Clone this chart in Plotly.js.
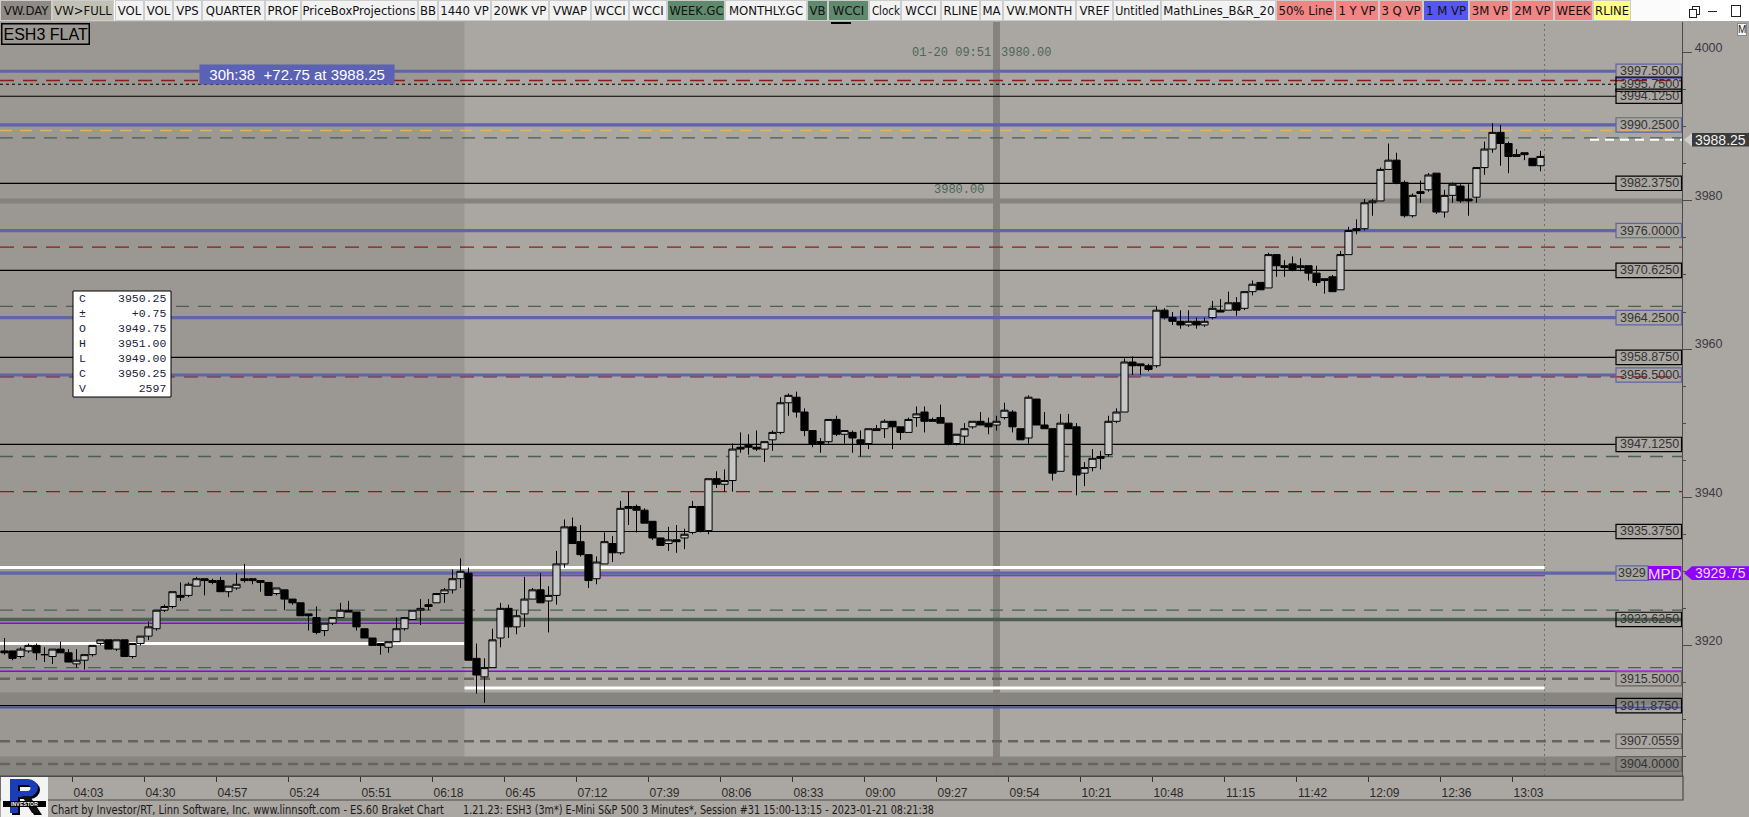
<!DOCTYPE html>
<html><head><meta charset="utf-8">
<script src="https://cdn.plot.ly/plotly-3.0.1.min.js"></script>
<style>
body{margin:0;background:#aaa6a1;overflow:hidden;width:1749px;height:817px;position:relative;font-family:"Liberation Sans",Arial,sans-serif}
#chart{position:absolute;left:0;top:0;width:1749px;height:817px}
#toolbar{position:absolute;left:0;top:0;width:1749px;height:21px;background:#fbfbfb;z-index:5}
.btn{position:absolute;top:0;height:21px;border:1px solid #cdcdcd;box-sizing:border-box;font:13px "Liberation Sans Narrow","DejaVu Sans Condensed","Liberation Sans",sans-serif;line-height:19px;text-align:center;color:#111;white-space:nowrap;overflow:visible;background:#f2f2f2}
.btn span{display:inline-block;transform-origin:center}
.ftxt{position:absolute;top:803px;font:12px "Liberation Sans Narrow","DejaVu Sans Condensed","Liberation Sans",sans-serif;color:#1a1a1a;white-space:pre;transform-origin:left center;z-index:5}
#logo{position:absolute;left:1px;top:777px;width:47px;height:40px;background:#f4f4f4;z-index:5}
</style></head>
<body>
<div id="chart"></div>
<div id="toolbar"></div>
<div id="logo">
 <svg width="47" height="40" style="position:absolute;left:0;top:0">
  <g transform="translate(2,2)" fill="#000">
   <rect x="9" y="2" width="8" height="34"/>
   <path d="M17 2 H27 A10 9 0 0 1 27 20 H17 V14 H26 A3.5 3 0 0 0 26 8 H17 Z"/>
   <polygon points="21,19 28,19 39,36 31,36"/>
  </g>
  <g fill="#1b3db8">
   <rect x="9" y="2" width="8" height="34"/>
   <path d="M17 2 H27 A10 9 0 0 1 27 20 H17 V14 H26 A3.5 3 0 0 0 26 8 H17 Z"/>
  </g>
  <polygon points="21,19 28,19 39,36 31,36" fill="#111"/>
  <rect x="2" y="24" width="43" height="6" fill="#000"/>
 </svg>
 <div style="position:absolute;left:2px;top:24px;width:43px;height:6px;color:#fff;font:bold 5px 'Liberation Sans',sans-serif;line-height:6px;text-align:center;letter-spacing:0.2px">INVESTOR</div>
</div>
<span class="ftxt" id="f1" data-x="51" data-w="393">Chart by Investor/RT, Linn Software, Inc. www.linnsoft.com - ES.60 Braket Chart</span>
<span class="ftxt" id="f2" data-x="463" data-w="471">1.21.23: ESH3 (3m*) E-Mini S&amp;P 500 3 Minutes*, Session #31 15:00-13:15 - 2023-01-21 08:21:38</span>
<script>
// ---------------- DATA ----------------
const firstBarStart = "03:36";           // start time of the first 3-minute bar
const rthStart = "06:30";
const sessionEnd = "13:15";
const crosshairTime = "09:51";          // bar end time shown by crosshair
const crosshairPrice = 3980.00;
const tickLabels = ["04:03","04:30","04:57","05:24","05:51","06:18","06:45","07:12","07:39","08:06","08:33",
                    "09:00","09:27","09:54","10:21","10:48","11:15","11:42","12:09","12:36","13:03"];
const priceTicks = [3920, 3940, 3960, 3980, 4000];

const openP = [
3919.25,3919.25,3918.5,3919.25,3920.0,3918.75,3918.5,3919.5,3919.0,3917.5,
3918.0,3918.75,3920.25,3920.75,3919.5,3920.75,3918.5,3920.25,3921.25,3922.25,
3924.75,3925.25,3926.75,3926.75,3928.0,3929.0,3928.75,3928.75,3927.25,3927.75,
3928.75,3929.0,3928.75,3928.5,3927.0,3927.5,3926.25,3925.75,3924.25,3923.75,
3922.0,3923.0,3923.75,3924.75,3924.5,3922.25,3921.0,3920.25,3919.75,3920.5,
3922.25,3923.5,3924.75,3925.5,3925.75,3927.0,3927.5,3929.0,3929.75,3918.25,
3915.75,3917.0,3921.0,3925.0,3922.5,3924.25,3926.25,3927.5,3926.0,3926.75,
3931.0,3936.0,3934.0,3932.25,3929.0,3931.0,3933.75,3932.5,3938.75,3938.75,
3938.25,3936.75,3934.5,3933.75,3934.25,3934.5,3935.25,3938.75,3935.5,3942.5,
3941.75,3942.25,3946.75,3947.0,3946.75,3946.5,3947.75,3948.75,3952.75,3953.5,
3951.5,3949.0,3947.5,3947.5,3950.5,3948.5,3948.75,3947.75,3947.25,3949.0,
3949.25,3950.25,3949.5,3948.75,3950.75,3951.5,3950.5,3950.75,3950.0,3947.25,
3948.25,3949.5,3950.25,3950.0,3949.75,3950.75,3951.5,3949.25,3948.0,3953.25,
3949.75,3949.25,3943.5,3950.0,3949.5,3943.25,3944.0,3945.5,3945.75,3950.25,
3951.5,3958.25,3958.0,3957.75,3957.75,3965.25,3964.25,3963.75,3963.25,3963.75,
3963.25,3964.25,3965.25,3965.25,3966.25,3965.5,3967.75,3969.0,3968.25,3972.75,
3971.25,3971.5,3971.0,3971.25,3970.25,3969.25,3969.75,3968.0,3972.75,3976.25,
3976.25,3979.75,3980.0,3984.25,3985.5,3982.5,3978.0,3981.25,3981.5,3983.75,
3978.5,3980.75,3982.0,3980.25,3980.5,3984.5,3987.0,3989.25,3987.75,3986.0,
3986.5,3985.75,3984.75];
const highP = [
3921.0,3919.25,3919.75,3920.25,3920.25,3919.75,3919.5,3920.5,3919.5,3919.5,
3918.75,3920.0,3920.75,3920.75,3920.75,3920.75,3920.25,3921.25,3923.25,3924.75,
3925.5,3927.25,3928.5,3928.5,3929.25,3929.0,3929.0,3929.25,3928.0,3929.75,
3931.0,3929.0,3928.75,3928.5,3927.75,3927.5,3926.25,3925.75,3924.25,3925.25,
3923.0,3923.75,3925.75,3926.0,3924.5,3922.25,3921.0,3920.25,3920.5,3923.75,
3923.75,3924.75,3926.25,3926.25,3927.0,3927.75,3930.25,3931.75,3930.5,3920.25,
3918.25,3922.25,3925.75,3925.5,3924.75,3929.25,3927.75,3929.75,3928.0,3932.75,
3937.0,3937.25,3936.25,3932.25,3932.0,3935.25,3934.75,3939.5,3940.75,3939.0,
3938.5,3936.75,3934.5,3936.0,3936.25,3935.75,3939.5,3938.75,3942.5,3943.5,
3943.75,3947.25,3948.75,3948.5,3949.0,3947.5,3949.0,3953.5,3954.0,3954.25,
3952.0,3949.0,3948.0,3950.5,3951.0,3949.0,3949.0,3949.0,3949.25,3949.75,
3950.5,3950.25,3949.5,3950.75,3952.25,3952.25,3950.75,3952.5,3950.0,3948.5,
3950.0,3950.25,3951.5,3950.75,3951.0,3952.75,3951.75,3949.25,3953.75,3953.25,
3951.5,3949.25,3951.25,3951.25,3950.0,3944.75,3946.5,3946.25,3951.0,3952.0,
3958.75,3959.0,3958.0,3958.0,3965.75,3965.5,3965.0,3965.25,3965.25,3964.25,
3964.25,3966.5,3966.75,3967.75,3967.0,3967.75,3969.25,3969.0,3973.0,3972.75,
3972.0,3972.5,3972.25,3971.25,3971.25,3969.5,3970.0,3973.25,3976.5,3977.5,
3980.25,3980.25,3984.5,3987.75,3986.5,3982.75,3981.0,3982.75,3983.75,3983.75,
3981.5,3982.5,3982.25,3982.25,3984.5,3988.0,3990.5,3990.25,3988.0,3987.0,
3986.5,3985.75,3986.75];
const lowP = [
3918.75,3918.0,3918.25,3919.0,3918.0,3917.75,3917.5,3919.0,3917.75,3917.0,
3916.75,3918.5,3920.0,3919.5,3919.25,3918.5,3918.25,3920.0,3920.75,3922.0,
3924.5,3925.0,3926.0,3926.5,3928.0,3926.75,3928.25,3927.25,3926.5,3927.5,
3928.5,3928.25,3927.25,3926.75,3926.75,3924.75,3925.5,3924.0,3922.0,3921.5,
3921.25,3922.75,3923.75,3924.5,3922.0,3921.0,3920.0,3918.75,3919.0,3920.5,
3922.0,3923.5,3922.75,3924.75,3925.75,3925.75,3927.0,3927.75,3918.0,3913.5,
3912.25,3917.0,3919.75,3921.0,3921.5,3922.5,3926.25,3925.75,3921.75,3925.5,
3930.5,3933.75,3932.0,3927.75,3928.25,3931.0,3931.25,3932.25,3936.25,3935.25,
3936.5,3934.25,3933.5,3932.75,3932.5,3933.0,3935.0,3935.25,3935.0,3941.25,
3940.75,3940.75,3946.0,3945.75,3946.25,3944.75,3946.25,3948.5,3951.0,3950.75,
3948.25,3946.75,3946.0,3947.25,3948.25,3947.25,3946.0,3945.5,3946.5,3949.0,
3948.0,3946.5,3947.75,3948.75,3949.5,3948.75,3950.25,3950.0,3947.0,3947.0,
3947.25,3949.25,3949.75,3948.5,3949.0,3950.5,3948.75,3947.75,3947.25,3949.75,
3949.25,3942.25,3943.5,3949.25,3940.25,3941.5,3943.5,3943.75,3945.5,3950.0,
3951.5,3956.5,3956.5,3957.0,3957.5,3964.0,3963.25,3962.75,3963.0,3962.75,
3963.0,3964.0,3965.0,3965.25,3964.5,3965.25,3967.25,3968.0,3968.25,3969.75,
3969.75,3970.5,3970.5,3969.25,3968.5,3967.5,3967.75,3968.0,3972.75,3975.5,
3976.0,3978.0,3980.0,3984.25,3982.25,3977.75,3977.75,3979.75,3981.25,3978.25,
3977.75,3979.75,3979.75,3978.0,3979.75,3983.5,3986.5,3984.75,3983.75,3986.0,
3985.5,3984.75,3984.0];
const closeP = [
3919.0,3918.25,3919.5,3920.0,3919.0,3918.75,3919.5,3919.0,3917.75,3918.0,
3918.75,3920.0,3920.75,3919.5,3920.75,3918.5,3920.25,3921.25,3922.5,3924.75,
3925.25,3927.25,3926.5,3928.25,3929.0,3928.75,3928.5,3927.25,3928.0,3928.25,
3929.0,3928.75,3928.5,3926.75,3927.75,3926.25,3925.75,3924.0,3924.0,3921.75,
3923.0,3923.75,3924.75,3924.5,3922.5,3921.0,3920.0,3920.0,3920.5,3922.25,
3923.75,3924.75,3925.0,3925.25,3927.0,3927.5,3929.0,3930.0,3918.0,3916.0,
3917.0,3920.75,3925.0,3922.5,3924.0,3926.25,3927.5,3925.75,3926.75,3931.0,
3936.0,3933.75,3932.25,3928.75,3931.25,3934.0,3932.5,3938.5,3938.5,3938.25,
3936.5,3934.5,3933.5,3934.25,3934.0,3935.0,3938.75,3935.5,3942.5,3941.75,
3942.25,3946.5,3946.5,3946.75,3946.5,3947.5,3948.75,3952.75,3953.75,3951.5,
3949.0,3947.25,3947.25,3950.5,3948.5,3949.0,3948.0,3947.25,3949.25,3949.25,
3950.25,3949.5,3948.75,3950.5,3951.25,3950.25,3950.25,3950.0,3947.25,3948.5,
3949.25,3950.25,3949.75,3949.5,3950.25,3951.75,3949.5,3947.75,3953.5,3949.75,
3949.25,3943.25,3950.0,3949.25,3943.0,3944.0,3945.25,3945.25,3950.25,3951.5,
3958.25,3957.75,3957.75,3957.25,3965.25,3964.25,3963.75,3963.25,3963.75,3963.25,
3963.75,3965.5,3965.0,3966.25,3965.25,3967.75,3968.75,3968.0,3972.75,3971.25,
3971.0,3970.75,3971.25,3970.25,3969.0,3969.5,3967.75,3972.75,3976.0,3976.0,
3979.75,3980.0,3984.25,3985.5,3982.5,3978.0,3980.75,3981.0,3983.5,3978.5,
3980.75,3982.25,3980.0,3980.0,3984.5,3987.0,3989.25,3987.75,3986.0,3986.25,
3986.25,3984.75,3986.0];

// horizontal reference levels
const blueLevels      = [3997.5, 3990.25, 3976.0, 3964.25, 3956.5, 3929.75];
const blackLevels     = [3994.125, 3982.375, 3970.625, 3958.875, 3947.125, 3935.375, 3911.875];
const dottedLevels    = [3995.75];
const redDashLevels   = [3996.25, 3973.75, 3956.25, 3940.75];
const greenDashLevels = [3988.5, 3965.75, 3945.5, 3924.75, 3917.0];
const grayDashLevels  = [3915.5, 3907.0559, 3904.0];
const orangeDashLevels= [3989.5];
const greenThickLevels= [3923.5];
const whiteFullLevels = [3930.5];
const whitePreLevels  = [3920.25];
const whiteRthLevels  = [3914.25];
const purplePreLevels = [3923.0];
const purpleRthLevels = [3929.4];
const purpleFullLevels= [3916.5];
const navyLevels      = [3911.6];
const zoneBands       = [[3911.875, 3913.625], [3902.37, 3905.0]];
const lastPrice = 3988.25;
const mpdPrice = 3929.75;

const rightLabels = [
  ["3997.5000", 3997.5, "blue"], ["3995.7500", 3995.75, "black"], ["3994.1250", 3994.125, "black"],
  ["3990.2500", 3990.25, "blue"], ["3982.3750", 3982.375, "black"], ["3976.0000", 3976.0, "blue"],
  ["3970.6250", 3970.625, "black"], ["3964.2500", 3964.25, "blue"], ["3958.8750", 3958.875, "black"],
  ["3956.5000", 3956.5, "blue"], ["3947.1250", 3947.125, "black"], ["3935.3750", 3935.375, "black"],
  ["3923.6250", 3923.5, "black"], ["3915.5000", 3915.5, "gray"], ["3911.8750", 3911.875, "black"],
  ["3907.0559", 3907.0559, "gray"], ["3904.0000", 3904.0, "gray"]];

const infoLabels = ["C","±","O","H","L","C","V"];
const infoValues = ["3950.25","+0.75","3949.75","3951.00","3949.00","3950.25","2597"];
const symbolText = "ESH3 FLAT";
const statText = "30h:38  +72.75 at 3988.25";
const crossDate = "01-20";

const toolbarButtons = [
 ["VW.DAY",0,52,"#8f8a85"],["VW>FULL",52,114,"#c3c1b5"],["VOL",115,144],["VOL",144,173],["VPS",173,202],
 ["QUARTER",202,265],["PROF",265,301],["PriceBoxProjections",301,418],["BB",418,438],["1440 VP",438,491],
 ["20WK VP",491,549],["VWAP",549,591],["WCCI",591,629],["WCCI",629,667],["WEEK.GC",667,725,"#5f8a6e"],
 ["MONTHLY.GC",725,807],["VB",807,828,"#5f8a6e"],["WCCI",828,869,"#5f8a6e"],["Clock",869,901],["WCCI",901,941],
 ["RLINE",941,980],["MA",980,1003],["VW.MONTH",1003,1076],["VREF",1076,1113],["Untitled",1113,1161],
 ["MathLines_B&R_20",1161,1276],["50% Line",1276,1335,"#f28484"],["1 Y VP",1335,1379,"#f28484"],
 ["3 Q VP",1379,1423,"#f28484"],["1 M VP",1423,1469,"#5656f4"],["3M VP",1469,1511,"#f28484"],
 ["2M VP",1511,1554,"#f28484"],["WEEK",1554,1593,"#f28484"],["RLINE",1593,1631,"#ffff82"]];

// ---------------- LAYOUT HELPERS ----------------
const PW = 1682, PT = 22, PB = 776, PH = PB - PT;
const YMIN = 3902.37, YMAX = 4004.15;
const pxX = x => x / PW;
const pxY = y => (PB - y) / PH;
const priceToPx = p => PB - (p - YMIN) / (YMAX - YMIN) * PH;
const toMin = s => { const a = s.split(':').map(Number); return a[0]*60 + a[1]; };
const barOfStart = s => (toMin(s) - toMin(firstBarStart)) / 3;

const barIndex = openP.map((_, i) => i);
const tickVals = tickLabels.map(t => barOfStart(t) - 0.5);
const rthEdge = barOfStart(rthStart) - 0.5;
const endEdge = barOfStart(sessionEnd) - 0.5;
const crossBar = barOfStart(crosshairTime) - 1;
const XMIN = -0.5625, XMAX = 209.6875;

const BOX_L = 1616;
const C = {blue:"#5f65a6", black:"#000000", gray:"#67625d", red:"#8e1b1b", green:"#4c5f52",
           orange:"#eab055", white:"#ffffff", purple:"#8a00ff", navy:"#4a55a5", band:"#878580"};

const shapes = [];
const annos = [];
function hl(p, x0, x1, xref, color, width, dash, layer) {
  shapes.push({type:"line", xref:xref, yref:"y", x0:x0, x1:x1, y0:p, y1:p,
    line:{color:color, width:width, dash:dash || "solid"}, layer: layer || "below"});
}
// premarket shading
shapes.push({type:"rect", xref:"x", yref:"paper", x0:XMIN, x1:rthEdge, y0:0, y1:1,
  fillcolor:"#9b9792", line:{width:0}, layer:"below"});
// zone bands
zoneBands.forEach(b => shapes.push({type:"rect", xref:"paper", yref:"y", x0:0, x1:1, y0:b[0], y1:b[1],
  fillcolor:C.band, line:{width:0}, layer:"below"}));
// crosshair
shapes.push({type:"line", xref:"x", yref:"paper", x0:crossBar, x1:crossBar, y0:0, y1:1,
  line:{color:"#86827d", width:7}, layer:"below"});
hl(crosshairPrice, 0, 1, "paper", "#86827d", 5);
// session end dotted
shapes.push({type:"line", xref:"x", yref:"paper", x0:endEdge, x1:endEdge, y0:0, y1:1,
  line:{color:"#6f6c68", width:1, dash:"2px,3px"}, layer:"below"});

const boxR = pxX(BOX_L);
redDashLevels.forEach(p => hl(p, 0, 1, "paper", C.red, 1.3, "14px,9px"));
greenDashLevels.forEach(p => hl(p, 0, 1, "paper", C.green, 1.3, "13px,9px"));
orangeDashLevels.forEach(p => hl(p, 0, 1, "paper", C.orange, 1.5, "12px,8px"));
grayDashLevels.forEach(p => hl(p, 0, boxR, "paper", C.gray, 2.5, "10px,6px"));
greenThickLevels.forEach(p => hl(p, 0, 1, "paper", C.green, 3.5));
whiteFullLevels.forEach(p => hl(p, XMIN, endEdge, "x", C.white, 3));
whitePreLevels.forEach(p => hl(p, XMIN, rthEdge, "x", C.white, 3));
whiteRthLevels.forEach(p => hl(p, rthEdge, endEdge, "x", C.white, 3));
purplePreLevels.forEach(p => hl(p, XMIN, rthEdge, "x", C.purple, 1.5));
purpleFullLevels.forEach(p => hl(p, 0, 1, "paper", C.purple, 1.5));
blackLevels.forEach(p => hl(p, 0, boxR, "paper", C.black, 1.2));
navyLevels.forEach(p => hl(p, 0, 1, "paper", C.navy, 2));
dottedLevels.forEach(p => hl(p, 0, boxR, "paper", C.black, 1.2, "3px,3px"));
blueLevels.forEach(p => hl(p, 0, boxR, "paper", C.blue, 3.2));
purpleRthLevels.forEach(p => hl(p, rthEdge, endEdge, "x", C.purple, 1));
// last price white dashes near the right
hl(lastPrice, pxX(1590), 1, "paper", "#ffffff", 2, "9px,6px");

// right-side price boxes
const halfBox = 7.2 * (YMAX - YMIN) / PH;
rightLabels.forEach(r => {
  const col = C[r[2]];
  shapes.push({type:"rect", xref:"paper", yref:"y", x0:boxR, x1:pxX(1681.5), y0:r[1]-halfBox, y1:r[1]+halfBox,
    line:{color:col, width:1.2}, fillcolor:"rgba(0,0,0,0)", layer:"above"});
  annos.push({xref:"paper", yref:"y", x:pxX((BOX_L+1682)/2), y:r[1], text:r[0], showarrow:false,
    xanchor:"center", yanchor:"middle", font:{family:"Liberation Sans", size:12.5, color:"#333"}});
});
// MPD box
shapes.push({type:"rect", xref:"paper", yref:"y", x0:boxR, x1:pxX(1648), y0:mpdPrice-halfBox, y1:mpdPrice+halfBox,
  line:{color:C.blue, width:1.2}, fillcolor:"#aaa6a1", layer:"above"});
shapes.push({type:"rect", xref:"paper", yref:"y", x0:pxX(1648), x1:pxX(1681.5), y0:mpdPrice-halfBox, y1:mpdPrice+halfBox,
  line:{width:0}, fillcolor:"#8f00ff", layer:"above"});
annos.push({xref:"paper", yref:"y", x:pxX(1632), y:mpdPrice, text:String(Math.floor(mpdPrice)), showarrow:false,
  xanchor:"center", yanchor:"middle", font:{family:"Liberation Sans", size:12.5, color:"#333"}});
annos.push({xref:"paper", yref:"y", x:pxX(1665), y:mpdPrice, text:"MPD", showarrow:false,
  xanchor:"center", yanchor:"middle", font:{family:"Liberation Sans", size:15, color:"#eadcff"}});

// price tags right of axis
function tag(price, bg, arrowCol, fg) {
  const yc = priceToPx(price), h = 6.8;
  shapes.push({type:"path", xref:"paper", yref:"paper",
    path:`M ${pxX(1684)} ${pxY(yc)} L ${pxX(1692)} ${pxY(yc-h)} L ${pxX(1692)} ${pxY(yc+h)} Z`,
    fillcolor:arrowCol, line:{width:0}, layer:"above"});
  shapes.push({type:"rect", xref:"paper", yref:"paper", x0:pxX(1692), x1:pxX(1749), y0:pxY(yc+h), y1:pxY(yc-h),
    fillcolor:bg, line:{width:0}, layer:"above"});
  annos.push({xref:"paper", yref:"paper", x:pxX(1720.5), y:pxY(yc), text:price.toFixed(2), showarrow:false,
    xanchor:"center", yanchor:"middle", font:{family:"Liberation Sans", size:14, color:fg}});
}
tag(lastPrice, "#3b3b3b", "#cfcfcf", "#f2f2f2");
tag(mpdPrice, "#8f00ff", "#8f00ff", "#eadcff");

// info box
shapes.push({type:"rect", xref:"paper", yref:"paper", x0:pxX(73), x1:pxX(171), y0:pxY(397), y1:pxY(291),
  fillcolor:"#ffffff", line:{color:"#000", width:1}, layer:"above"});
annos.push({xref:"paper", yref:"paper", x:pxX(77), y:pxY(344), xanchor:"left", yanchor:"middle", align:"left",
  text:infoLabels.join("<br>"), showarrow:false, font:{family:"Liberation Mono", size:11.5, color:"#1c1c3a"}});
annos.push({xref:"paper", yref:"paper", x:pxX(168), y:pxY(344), xanchor:"right", yanchor:"middle", align:"right",
  text:infoValues.join("<br>"), showarrow:false, font:{family:"Liberation Mono", size:11.5, color:"#1c1c3a"}});

// symbol box
annos.push({xref:"paper", yref:"paper", x:pxX(1), y:pxY(23), xanchor:"left", yanchor:"top", text:symbolText,
  showarrow:false, bordercolor:"#000", borderwidth:1.5, borderpad:1,
  font:{family:"Liberation Sans", size:16, color:"#000"}});
// stat label
annos.push({xref:"paper", yref:"paper", x:pxX(297), y:pxY(74), xanchor:"center", yanchor:"middle",
  text:"&nbsp;&nbsp;" + statText.replace(/ /g,"&nbsp;") + "&nbsp;&nbsp;", showarrow:false, bgcolor:"#5b61b4", borderpad:1,
  font:{family:"Liberation Sans", size:15, color:"#ffffff"}});
// crosshair labels
const crossX = 4.5 + 8*crossBar;
annos.push({xref:"paper", yref:"paper", x:pxX(crossX-4), y:pxY(53), xanchor:"right", yanchor:"middle",
  text:crossDate + "&nbsp;" + crosshairTime, showarrow:false,
  font:{family:"Liberation Mono", size:12, color:"#4a6658"}});
annos.push({xref:"paper", yref:"paper", x:pxX(crossX+2), y:pxY(53), xanchor:"left", yanchor:"middle",
  text:crosshairPrice.toFixed(2), showarrow:false, font:{family:"Liberation Mono", size:12, color:"#4a6658"}});
annos.push({xref:"paper", yref:"y", x:pxX(986), y:crosshairPrice, xanchor:"right", yanchor:"bottom", yshift:2,
  text:crosshairPrice.toFixed(2), showarrow:false, font:{family:"Liberation Mono", size:12, color:"#4a6658"}});
// "M" button
annos.push({xref:"paper", yref:"paper", x:pxX(1742), y:pxY(30), xanchor:"center", yanchor:"middle", text:"M",
  showarrow:false, bgcolor:"#f4f4f4", bordercolor:"#888", borderwidth:1, borderpad:0,
  font:{family:"Liberation Sans", size:10, color:"#222"}});
// time-axis band frame
shapes.push({type:"rect", xref:"paper", yref:"paper", x0:0, x1:pxX(1683), y0:pxY(800), y1:pxY(776),
  line:{color:"#4a4a4a", width:1.2}, fillcolor:"rgba(0,0,0,0)", layer:"above"});

const trace = {
  type:"candlestick", x:barIndex, open:openP, high:highP, low:lowP, close:closeP,
  increasing:{line:{color:"#000", width:1}, fillcolor:"#c6c6c6"},
  decreasing:{line:{color:"#000", width:1}, fillcolor:"#000"},
  whiskerwidth:0, hoverinfo:"skip", showlegend:false
};

const layout = {
  width:1749, height:817, margin:{l:0, r:67, t:PT, b:817-PB},
  paper_bgcolor:"#aaa6a1", plot_bgcolor:"#aaa6a1",
  boxgap:0.1, boxgroupgap:0,
  xaxis:{range:[XMIN, XMAX], rangeslider:{visible:false}, showgrid:false, zeroline:false,
    tickmode:"array", tickvals:tickVals, ticktext:tickLabels, ticks:"outside", ticklen:5, tickwidth:1,
    tickcolor:"#333", showline:true, linecolor:"#4a4a4a", linewidth:1.2, ticklabelshift:16,
    tickfont:{family:"Liberation Sans", size:12, color:"#2a2a2a"}, fixedrange:true},
  yaxis:{range:[YMIN, YMAX], side:"right", showgrid:false, zeroline:false,
    tickmode:"array", tickvals:priceTicks, ticks:"outside", ticklen:9, tickwidth:1, tickcolor:"#4a4a4a",
    showline:true, linecolor:"#4a4a4a", linewidth:1.2, ticklabelshift:-5,
    minor:{tickmode:"linear", tick0:0, dtick:5, ticks:"outside", ticklen:3, tickcolor:"#4a4a4a"},
    tickfont:{family:"Liberation Sans", size:12.5, color:"#3a3a44"}, fixedrange:true},
  shapes:shapes, annotations:annos
};
Plotly.newPlot("chart", [trace], layout, {displayModeBar:false, staticPlot:true});

// ---------------- TOOLBAR / FOOTER (HTML) ----------------
const tb = document.getElementById("toolbar");
toolbarButtons.forEach(b => {
  const d = document.createElement("div");
  d.className = "btn";
  d.style.left = b[1] + "px"; d.style.width = (b[2]-b[1]) + "px";
  if (b[3]) d.style.background = b[3];
  const s = document.createElement("span"); s.textContent = b[0]; d.appendChild(s);
  tb.appendChild(d);
  const avail = b[2]-b[1]-4, w = s.getBoundingClientRect().width;
  if (w > avail) s.style.transform = `scaleX(${avail/w})`;
});
// under-mark of WCCI
const um = document.createElement("div");
um.style.cssText = "position:absolute;left:831px;top:22px;width:20px;height:2px;background:#000;z-index:6";
document.body.appendChild(um);
// window icons
const icons = document.createElement("div");
icons.style.cssText = "position:absolute;left:1680px;top:0;width:69px;height:21px;background:#fff;z-index:6";
icons.innerHTML = '<div style="position:absolute;left:12px;top:6px;width:6px;height:7px;border:1px solid #222"></div>'+
 '<div style="position:absolute;left:9px;top:9px;width:6px;height:7px;border:1px solid #222;background:#fff"></div>'+
 '<div style="position:absolute;left:28px;top:11px;width:9px;height:1px;background:#222"></div>'+
 '<div style="position:absolute;left:51px;top:5px;width:8px;height:10px;border:1px solid #222"></div>';
document.body.appendChild(icons);
document.querySelectorAll(".ftxt").forEach(el => {
  el.style.left = el.dataset.x + "px";
  const w = el.getBoundingClientRect().width;
  el.style.transform = `scaleX(${el.dataset.w / w})`;
});
</script>
</body></html>
